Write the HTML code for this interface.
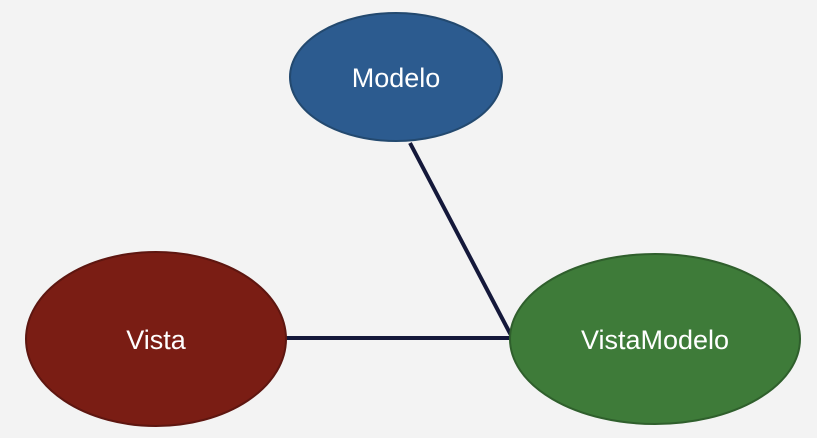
<!DOCTYPE html>
<html><head><style>html,body{margin:0;padding:0;background:#f3f3f3;}</style></head>
<body>
<svg width="817" height="433" viewBox="0 0 817 433" xmlns="http://www.w3.org/2000/svg">
<rect width="817" height="433" fill="#f3f3f3"/>
<line x1="410" y1="143" x2="513" y2="339" stroke="#14183a" stroke-width="4"/>
<line x1="285" y1="338" x2="513" y2="338" stroke="#14183a" stroke-width="4"/>
<ellipse cx="396" cy="77" rx="106" ry="64" fill="#2c5b8f" stroke="#23496f" stroke-width="2"/>
<ellipse cx="156" cy="339" rx="130" ry="87" fill="#7a1d14" stroke="#5e1610" stroke-width="2"/>
<ellipse cx="655" cy="339" rx="145" ry="85" fill="#3e7b39" stroke="#2f5f2c" stroke-width="2"/>
<g font-family="Liberation Sans, sans-serif" font-size="27" fill="#fff" text-anchor="middle">
<text x="396" y="87">Modelo</text>
<text x="156" y="349">Vista</text>
<text x="655" y="349">VistaModelo</text>
</g>
</svg>
</body></html>
